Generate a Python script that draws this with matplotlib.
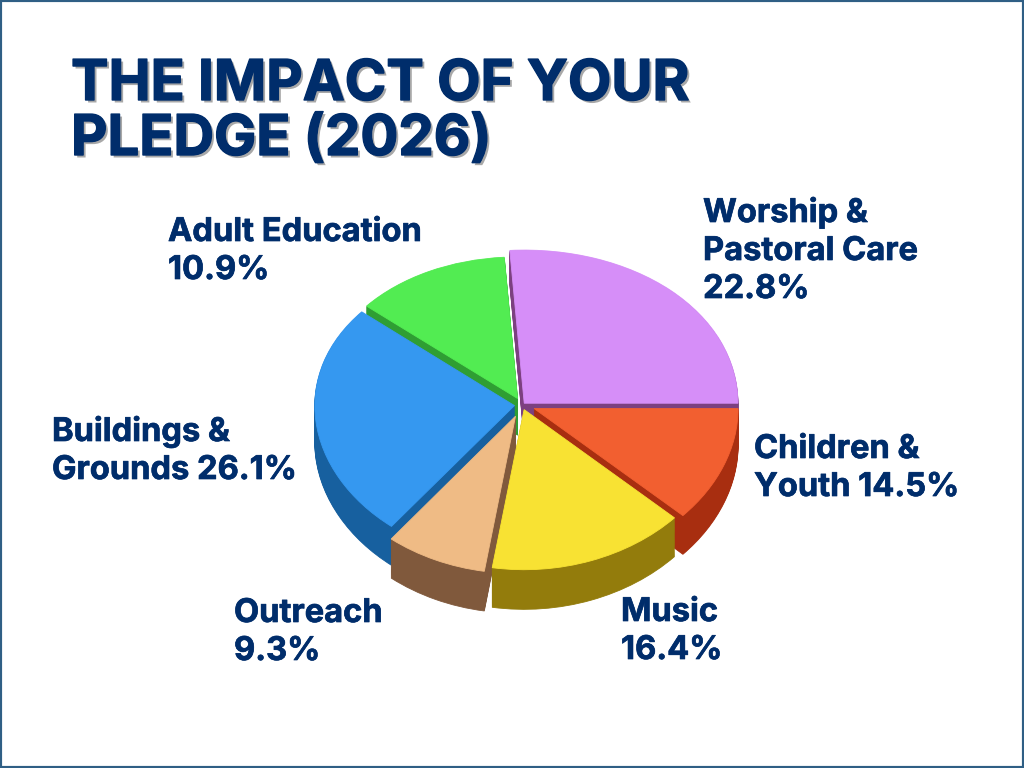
import numpy as np
import matplotlib
matplotlib.use("Agg")
import matplotlib.pyplot as plt
import matplotlib.patheffects as pe
from matplotlib.patches import Rectangle

# slices, counter clockwise from 3 o'clock. the picture is not drawn to scale,
# so shares are read off the slice angles and percents are only printed in labels
names = ["Worship &\nPastoral Care", "Adult Education", "Buildings &\nGrounds", "Outreach", "Music", "Children &\nYouth"]
percents = [22.8, 10.9, 26.1, 9.3, 16.4, 14.5]
shares = [26.1, 12.8, 25.6, 8.1, 15.5, 12.0]

tops = ["#d68ef8", "#52ec52", "#3598f0", "#efbb85", "#f8e233", "#f25f30"]
sides = ["#7c4080", "#2f9e33", "#17609f", "#80593c", "#937c0c", "#a82e10"]
explode = [0.015, 0.045, 0.035, 0.075, 0.03, 0.06]
radii = [0.985, 0.91, 0.92, 0.93, 0.95, 0.94]
order = [0, 1, 5, 2, 3, 4]  # back to front

label_pos = [(703, 222), (168, 241), (52, 441), (234, 622), (621, 621), (754, 458)]
navy = "#002d6b"
font = "Inter"

W, H = 1024, 768
cx, cy = 522, 405
rx, ry = 217, 162
bend = 0.04  # front of the pie looks a bit bigger


def forward(y):
    return y - bend * y ** 2


def inverse(t):
    return (1 - np.sqrt(np.maximum(1 - 4 * bend * t, 0))) / (2 * bend)


fig = plt.figure(figsize=(W / 100, H / 100), dpi=100)
ax = fig.add_axes([0, 0, 1, 1])

# depth is a stack of darker pies
for d in np.linspace(0.225, 0.006, 36):
    wedges, _ = ax.pie(shares, explode=explode, colors=sides, center=(0, -d), startangle=0)
    for i, w in enumerate(wedges):
        w.set_radius(radii[i])
        w.set_edgecolor(sides[i])
        w.set_linewidth(0.6)
        w.set_zorder(2 + order.index(i))

wedges, _ = ax.pie(shares, explode=explode, colors=tops, startangle=0)
for i, w in enumerate(wedges):
    w.set_radius(radii[i])
    w.set_edgecolor(tops[i])
    w.set_linewidth(0.6)
    w.set_zorder(2.5 + order.index(i))

ax.set_aspect("auto")
ax.set_yscale("function", functions=(forward, inverse))
ax.set_xlim(-cx / rx, (W - cx) / rx)
ax.set_ylim(inverse(-(H - cy) / ry), inverse(cy / ry))
ax.axis("off")

# title
for line, y in zip(["THE IMPACT OF YOUR", "PLEDGE (2026)"], [100, 155]):
    fig.text(71 / W, 1 - y / H, line, color=navy, fontsize=40.5, fontweight="bold", family=font, va="baseline",
             path_effects=[pe.withSimplePatchShadow(offset=(1.8, -1.8), shadow_rgbFace="#a8a8a8", alpha=1),
                           pe.withStroke(linewidth=1, foreground=navy)])

# labels
for i, name in enumerate(names):
    x, y = label_pos[i]
    if i in (2, 5):
        text = f"{name} {percents[i]}%"
    else:
        text = f"{name}\n{percents[i]}%"
    for j, line in enumerate(text.split("\n")):
        fig.text(x / W, 1 - (y + 38 * j) / H, line, color=navy, fontsize=23.5, fontweight="bold", family=font, va="baseline",
                 path_effects=[pe.withStroke(linewidth=0.5, foreground=navy)])

fig.add_artist(Rectangle((0, 0), 1, 1, transform=fig.transFigure, fill=False, edgecolor="#2f5f85", linewidth=3))

fig.savefig("out.png", dpi=100)
